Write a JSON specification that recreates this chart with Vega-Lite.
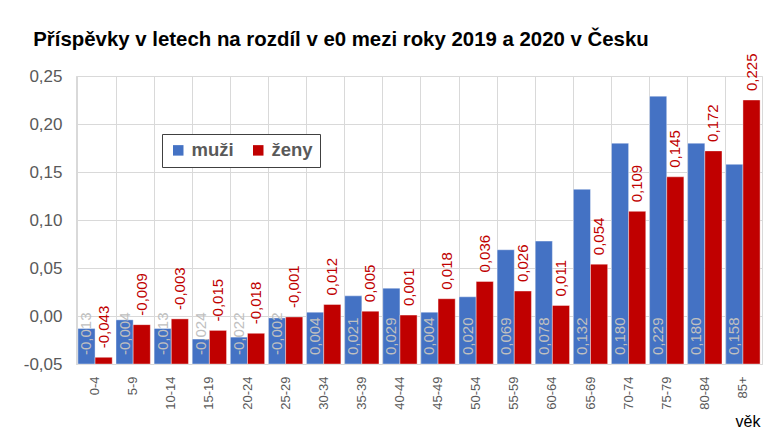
{
  "$schema": "https://vega.github.io/schema/vega-lite/v6.json",
  "width": 686,
  "height": 288,
  "autosize": {"type": "none"},
  "padding": {"left": 76, "top": 76, "right": 12, "bottom": 68},
  "background": "white",
  "config": {
    "locale": {"number": {"decimal": ",", "thousands": " ", "grouping": [3], "currency": ["", " Kč"], "minus": "-"}},
    "font": "Liberation Sans",
    "view": {"stroke": "#d9d9d9", "strokeWidth": 1}
  },
  "title": {
    "text": "Příspěvky v letech na rozdíl v e0 mezi roky 2019 a 2020 v Česku",
    "anchor": "start",
    "fontSize": 20.4,
    "fontWeight": "bold",
    "color": "#000000",
    "font": "Liberation Sans",
    "baseline": "alphabetic",
    "dx": 10,
    "dy": 35,
    "offset": 22
  },
  "data": {
    "values": [
      {"vek": "0-4", "pohlavi": "muži", "hodnota": -0.013},
      {"vek": "0-4", "pohlavi": "ženy", "hodnota": -0.043},
      {"vek": "5-9", "pohlavi": "muži", "hodnota": -0.004},
      {"vek": "5-9", "pohlavi": "ženy", "hodnota": -0.009},
      {"vek": "10-14", "pohlavi": "muži", "hodnota": -0.013},
      {"vek": "10-14", "pohlavi": "ženy", "hodnota": -0.003},
      {"vek": "15-19", "pohlavi": "muži", "hodnota": -0.024},
      {"vek": "15-19", "pohlavi": "ženy", "hodnota": -0.015},
      {"vek": "20-24", "pohlavi": "muži", "hodnota": -0.022},
      {"vek": "20-24", "pohlavi": "ženy", "hodnota": -0.018},
      {"vek": "25-29", "pohlavi": "muži", "hodnota": -0.002},
      {"vek": "25-29", "pohlavi": "ženy", "hodnota": -0.001},
      {"vek": "30-34", "pohlavi": "muži", "hodnota": 0.004},
      {"vek": "30-34", "pohlavi": "ženy", "hodnota": 0.012},
      {"vek": "35-39", "pohlavi": "muži", "hodnota": 0.021},
      {"vek": "35-39", "pohlavi": "ženy", "hodnota": 0.005},
      {"vek": "40-44", "pohlavi": "muži", "hodnota": 0.029},
      {"vek": "40-44", "pohlavi": "ženy", "hodnota": 0.001},
      {"vek": "45-49", "pohlavi": "muži", "hodnota": 0.004},
      {"vek": "45-49", "pohlavi": "ženy", "hodnota": 0.018},
      {"vek": "50-54", "pohlavi": "muži", "hodnota": 0.020},
      {"vek": "50-54", "pohlavi": "ženy", "hodnota": 0.036},
      {"vek": "55-59", "pohlavi": "muži", "hodnota": 0.069},
      {"vek": "55-59", "pohlavi": "ženy", "hodnota": 0.026},
      {"vek": "60-64", "pohlavi": "muži", "hodnota": 0.078},
      {"vek": "60-64", "pohlavi": "ženy", "hodnota": 0.011},
      {"vek": "65-69", "pohlavi": "muži", "hodnota": 0.132},
      {"vek": "65-69", "pohlavi": "ženy", "hodnota": 0.054},
      {"vek": "70-74", "pohlavi": "muži", "hodnota": 0.180},
      {"vek": "70-74", "pohlavi": "ženy", "hodnota": 0.109},
      {"vek": "75-79", "pohlavi": "muži", "hodnota": 0.229},
      {"vek": "75-79", "pohlavi": "ženy", "hodnota": 0.145},
      {"vek": "80-84", "pohlavi": "muži", "hodnota": 0.180},
      {"vek": "80-84", "pohlavi": "ženy", "hodnota": 0.172},
      {"vek": "85+", "pohlavi": "muži", "hodnota": 0.158},
      {"vek": "85+", "pohlavi": "ženy", "hodnota": 0.225}
    ]
  },
  "encoding": {
    "x": {
      "field": "vek",
      "type": "nominal",
      "sort": null,
      "scale": {"paddingInner": 0.1, "paddingOuter": 0.05},
      "axis": {
        "title": "věk",
        "titleFont": "Liberation Sans",
        "titleFontSize": 16,
        "titleFontWeight": "normal",
        "titleColor": "#000000",
        "titleAnchor": "end",
        "titleAlign": "right",
        "titleBaseline": "alphabetic",
        "titleX": 684,
        "titleY": 62,
        "labelAngle": -90,
        "labelAlign": "right",
        "labelBaseline": "middle",
        "labelFontSize": 13,
        "labelColor": "#595959",
        "labelPadding": 12,
        "ticks": false,
        "domainColor": "#d9d9d9",
        "grid": true,
        "gridColor": "#d9d9d9",
        "bandPosition": 0
      }
    },
    "xOffset": {"field": "pohlavi", "type": "nominal", "scale": {"paddingInner": 0, "paddingOuter": 0}}
  },
  "layer": [
    {
      "mark": {"type": "bar", "stroke": "white", "strokeWidth": 0.4},
      "encoding": {
        "y": {
          "field": "hodnota",
          "type": "quantitative",
          "scale": {"domain": [-0.05, 0.25], "nice": false, "zero": false},
          "axis": {
            "title": null,
            "format": ".2f",
            "values": [-0.05, 0, 0.05, 0.1, 0.15, 0.2, 0.25],
            "labelFontSize": 17,
            "labelColor": "#595959",
            "labelPadding": 14,
            "ticks": false,
            "domain": false,
            "gridColor": "#d9d9d9"
          }
        },
        "y2": {"datum": -0.05},
        "color": {
          "field": "pohlavi",
          "type": "nominal",
          "scale": {"domain": ["muži", "ženy"], "range": ["#4472C4", "#C00000"]},
          "legend": {
            "title": null,
            "orient": "none",
            "legendX": 86,
            "legendY": 58,
            "direction": "horizontal",
            "symbolType": "square",
            "symbolSize": 110,
            "symbolStrokeWidth": 0,
            "labelFontSize": 18.5,
            "labelFontWeight": "bold",
            "labelColor": "#595959",
            "labelOffset": 4,
            "columnPadding": 15,
            "padding": 7,
            "strokeColor": "#404040",
            "fillColor": "white"
          }
        }
      }
    },
    {
      "transform": [{"filter": "datum.pohlavi === 'muži'"}],
      "mark": {"type": "text", "angle": -90, "align": "left", "baseline": "middle", "dx": 9, "fontSize": 15, "color": "#C0C0C0"},
      "encoding": {
        "y": {"datum": -0.05},
        "text": {"field": "hodnota", "type": "quantitative", "format": ".3f"}
      }
    },
    {
      "transform": [{"filter": "datum.pohlavi === 'ženy'"}],
      "mark": {"type": "text", "angle": -90, "align": "left", "baseline": "middle", "dx": 9, "fontSize": 15, "color": "#C00000"},
      "encoding": {
        "y": {"field": "hodnota", "type": "quantitative"},
        "text": {"field": "hodnota", "type": "quantitative", "format": ".3f"}
      }
    }
  ]
}
